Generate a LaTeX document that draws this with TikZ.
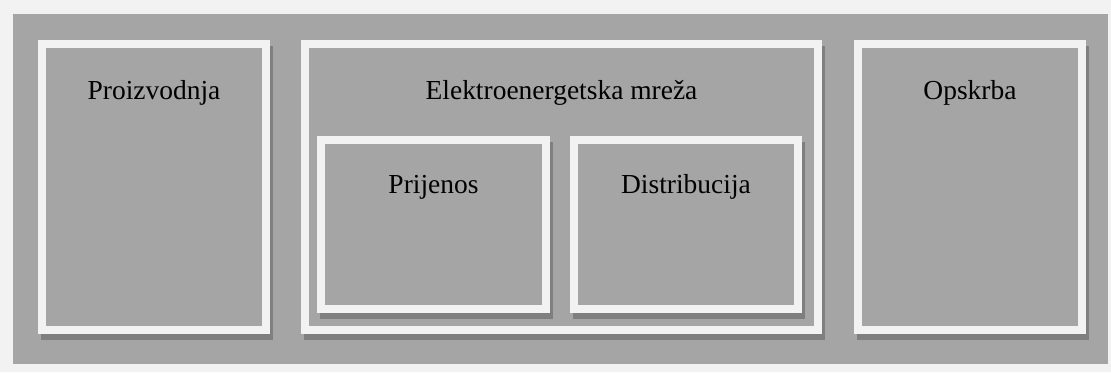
\documentclass[tikz,border=0pt]{standalone}
\usepackage{fontspec}
\setmainfont{Liberation Serif}
\usepackage{tikz}
\usetikzlibrary{positioning}

\definecolor{paper}{RGB}{242,242,242}
\definecolor{panel}{RGB}{165,165,165}
\definecolor{frame}{RGB}{242,242,242}
\definecolor{shade}{RGB}{127,127,127}

\begin{document}
\begin{tikzpicture}[x=0.75pt,y=-0.75pt,%
  % common options for the framed blocks:
  block/.style = {draw=frame, fill=panel, line width=6pt, inner sep=0,
              preaction={draw=shade, fill=shade, line width=6pt,
                transform canvas={shift={(3,6)}}}},
  % common options for the titles:
  title/.style = {anchor=base, inner sep=0, font=\fontsize{20.6}{24}\selectfont}
	]

  % page and grey panel
  \fill[paper] (0,0) rectangle (1111,372);
  \fill[panel] (13,14) rectangle (1108,364);

  \node[block, minimum width=224*0.75pt, minimum height=286*0.75pt] (prz) at (154,187) {};
  \node[block, minimum width=513*0.75pt, minimum height=286*0.75pt] (mreza) at (561.5,187) {};
  \node[block, minimum width=224*0.75pt, minimum height=286*0.75pt] (ops) at (970,187) {};
  \node[block, minimum width=225*0.75pt, minimum height=169*0.75pt] (prij) at (433.5,224.5) {};
  \node[block, minimum width=224*0.75pt, minimum height=169*0.75pt] (dist) at (686,224.5) {};

  \node[title] (tprz) at (prz.center |- 0,99) {Proizvodnja};
  \node[title] (tmreza) at (mreza.center |- 0,99) {Elektroenergetska mreža};
  \node[title] (tops) at (ops.center |- 0,99) {Opskrba};
  \node[title] (tprij) at (prij.center |- 0,193) {Prijenos};
  \node[title] (tdist) at (dist.center |- 0,193) {Distribucija};
\end{tikzpicture}
\end{document}
